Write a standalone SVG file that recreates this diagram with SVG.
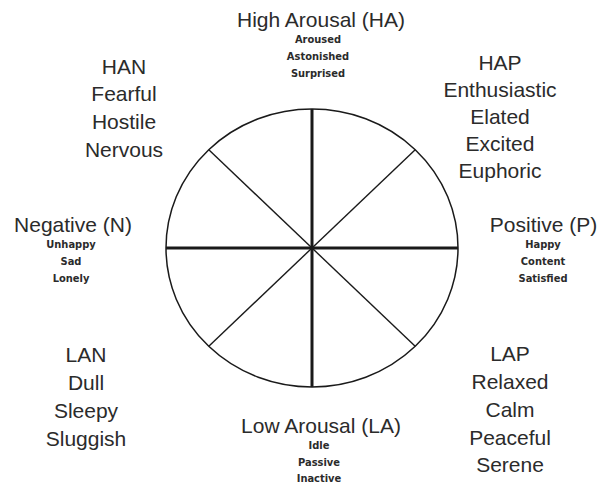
<svg xmlns="http://www.w3.org/2000/svg" width="598" height="486" viewBox="0 0 598 486">
<style>
.big{font-family:"Liberation Sans",Arial,sans-serif;font-size:21px;fill:#2b2b2b;text-anchor:middle}
.sm{font-family:"DejaVu Sans Condensed","Liberation Sans",Arial,sans-serif;font-size:11px;font-weight:bold;fill:#2b2b2b;text-anchor:middle}
.axis{stroke:#1a1a1a;stroke-width:3;fill:none}
.diag{stroke:#1a1a1a;stroke-width:1.4;fill:none}
.rim{stroke:#1a1a1a;stroke-width:1.5;fill:none}
</style>
<rect width="598" height="486" fill="#fff"/>
<g id="wheel">
<ellipse class="rim" cx="312" cy="248" rx="146" ry="139"/>
<line class="diag" x1="208.8" y1="149.7" x2="415.2" y2="346.3"/>
<line class="diag" x1="415.2" y1="149.7" x2="208.8" y2="346.3"/>
<line class="axis" x1="312" y1="109" x2="312" y2="387"/>
<line class="axis" x1="166" y1="248" x2="458" y2="248"/>
</g>
<g id="HA">
<text class="big" x="321" y="27">High Arousal (HA)</text>
<text class="sm" x="318" y="43">Aroused</text>
<text class="sm" x="318" y="60">Astonished</text>
<text class="sm" x="318" y="77">Surprised</text>
</g>
<g id="LA">
<text class="big" x="321" y="433">Low Arousal (LA)</text>
<text class="sm" x="319" y="449">Idle</text>
<text class="sm" x="319" y="465.5">Passive</text>
<text class="sm" x="319" y="482">Inactive</text>
</g>
<g id="N">
<text class="big" x="73" y="232">Negative (N)</text>
<text class="sm" x="71" y="248">Unhappy</text>
<text class="sm" x="71" y="265">Sad</text>
<text class="sm" x="71" y="282">Lonely</text>
</g>
<g id="P">
<text class="big" x="543.5" y="232">Positive (P)</text>
<text class="sm" x="543" y="248">Happy</text>
<text class="sm" x="543" y="265">Content</text>
<text class="sm" x="543" y="282">Satisfied</text>
</g>
<g id="HAN">
<text class="big" x="124" y="73.5">HAN</text>
<text class="big" x="124" y="101.3">Fearful</text>
<text class="big" x="124" y="129.1">Hostile</text>
<text class="big" x="124" y="156.9">Nervous</text>
</g>
<g id="HAP">
<text class="big" x="500" y="70">HAP</text>
<text class="big" x="500" y="97">Enthusiastic</text>
<text class="big" x="500" y="124">Elated</text>
<text class="big" x="500" y="151">Excited</text>
<text class="big" x="500" y="178">Euphoric</text>
</g>
<g id="LAN">
<text class="big" x="86" y="362">LAN</text>
<text class="big" x="86" y="390">Dull</text>
<text class="big" x="86" y="418">Sleepy</text>
<text class="big" x="86" y="446">Sluggish</text>
</g>
<g id="LAP">
<text class="big" x="510" y="361">LAP</text>
<text class="big" x="510" y="389">Relaxed</text>
<text class="big" x="510" y="417">Calm</text>
<text class="big" x="510" y="445">Peaceful</text>
<text class="big" x="510" y="472">Serene</text>
</g>
</svg>
